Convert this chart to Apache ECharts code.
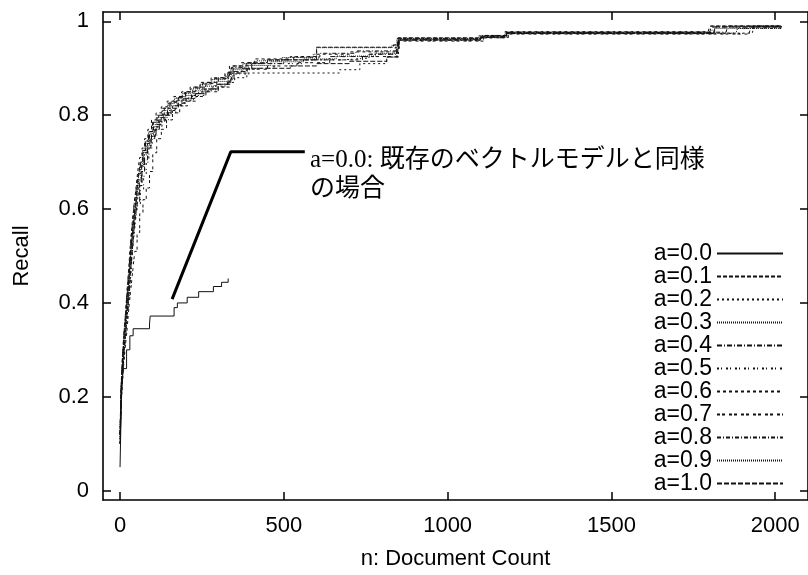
<!DOCTYPE html>
<html>
<head>
<meta charset="utf-8">
<script src="https://cdn.jsdelivr.net/npm/echarts@6/dist/echarts.min.js"></script>
<style>html,body{margin:0;padding:0;background:#fff;}#c{width:808px;height:575px;}</style>
</head>
<body>
<div id="c"></div>
<script>
// ---- data ----
const seriesNames = ['a=0.0','a=0.1','a=0.2','a=0.3','a=0.4','a=0.5','a=0.6','a=0.7','a=0.8','a=0.9','a=1.0'];
const xTicks = [0, 500, 1000, 1500, 2000];
const yTicks = [0, 0.2, 0.4, 0.6, 0.8, 1];

const a00 = [[0,0.05],[2,0.12],[5,0.22],[10,0.26],[20,0.30],[30,0.33],[40,0.345],[90,0.355],[92,0.372],[165,0.39],[175,0.40],[205,0.412],[240,0.424],[285,0.435],[310,0.444],[330,0.452]];
const a01 = [[0,0.12],[3,0.21],[8,0.28],[13,0.33],[18,0.37],[24,0.42],[29,0.47],[34,0.52],[39,0.56],[45,0.60],[50,0.63],[56,0.67],[62,0.70],[70,0.725],[78,0.745],[90,0.765],[102,0.785],[118,0.80],[135,0.815],[155,0.828],[178,0.84],[200,0.85],[230,0.86],[262,0.87],[300,0.88],[330,0.892],[345,0.905],[390,0.912],[450,0.918],[600,0.945],[835,0.95],[848,0.965],[1105,0.97],[1180,0.977],[1800,0.977],[1805,0.99],[2018,0.99]];
const a02 = [[0,0.10],[4,0.19],[9,0.25],[14,0.31],[20,0.35],[25,0.40],[31,0.45],[36,0.50],[41,0.54],[46,0.58],[52,0.61],[58,0.65],[66,0.68],[75,0.71],[85,0.735],[95,0.755],[108,0.775],[122,0.79],[140,0.805],[160,0.82],[185,0.83],[210,0.84],[240,0.85],[275,0.86],[320,0.87],[350,0.88],[387,0.89],[670,0.897],[732,0.91],[814,0.924],[850,0.96],[1100,0.966],[1185,0.975],[1930,0.976],[1935,0.99],[2018,0.99]];
const a03 = [[0,0.11],[3,0.20],[7,0.27],[12,0.32],[18,0.36],[23,0.41],[28,0.46],[33,0.51],[38,0.55],[44,0.59],[49,0.62],[55,0.66],[61,0.69],[68,0.72],[76,0.74],[86,0.76],[98,0.78],[112,0.795],[128,0.81],[146,0.825],[166,0.836],[190,0.846],[215,0.856],[245,0.866],[280,0.876],[322,0.886],[338,0.90],[375,0.91],[415,0.916],[495,0.923],[590,0.93],[600,0.944],[830,0.949],[845,0.963],[1100,0.968],[1175,0.975],[1880,0.978],[1885,0.985],[2018,0.99]];
const a04 = [[0,0.12],[3,0.22],[8,0.27],[12,0.33],[17,0.37],[23,0.42],[29,0.47],[34,0.52],[40,0.56],[46,0.60],[52,0.63],[59,0.665],[66,0.695],[74,0.72],[84,0.74],[96,0.76],[110,0.78],[126,0.795],[145,0.81],[168,0.822],[192,0.835],[218,0.846],[250,0.856],[290,0.866],[330,0.876],[336,0.89],[372,0.90],[402,0.91],[500,0.918],[640,0.925],[760,0.93],[845,0.942],[852,0.962],[1110,0.968],[1180,0.976],[1805,0.978],[1810,0.988],[2018,0.99]];
const a05 = [[0,0.10],[4,0.20],[9,0.26],[14,0.31],[20,0.355],[26,0.40],[32,0.45],[37,0.50],[42,0.54],[48,0.58],[54,0.61],[62,0.64],[72,0.67],[80,0.70],[88,0.73],[98,0.755],[112,0.775],[128,0.79],[148,0.805],[170,0.82],[196,0.832],[224,0.842],[256,0.852],[292,0.862],[328,0.872],[340,0.888],[395,0.90],[470,0.91],[560,0.918],[680,0.922],[760,0.93],[845,0.945],[850,0.96],[1100,0.965],[1180,0.974],[1900,0.976],[1905,0.985],[2018,0.988]];
const a06 = [[0,0.12],[3,0.21],[7,0.28],[12,0.33],[17,0.38],[22,0.43],[27,0.48],[32,0.53],[37,0.57],[43,0.61],[48,0.64],[54,0.68],[60,0.71],[67,0.73],[75,0.75],[85,0.77],[96,0.79],[110,0.805],[126,0.818],[144,0.83],[164,0.84],[188,0.85],[214,0.86],[244,0.87],[278,0.88],[320,0.89],[334,0.905],[370,0.912],[410,0.92],[520,0.925],[600,0.93],[700,0.935],[840,0.945],[848,0.963],[1095,0.969],[1175,0.978],[1795,0.978],[1800,0.99],[2018,0.99]];
const a07 = [[0,0.10],[4,0.19],[9,0.25],[15,0.30],[21,0.34],[27,0.39],[33,0.43],[39,0.47],[45,0.51],[52,0.55],[60,0.59],[70,0.62],[80,0.645],[90,0.68],[100,0.72],[112,0.75],[126,0.77],[142,0.79],[160,0.805],[182,0.82],[206,0.83],[232,0.84],[262,0.85],[300,0.86],[335,0.875],[342,0.89],[388,0.898],[450,0.905],[540,0.912],[640,0.918],[740,0.925],[845,0.94],[852,0.958],[1110,0.965],[1185,0.973],[1920,0.975],[1925,0.988],[2018,0.99]];
const a08 = [[0,0.12],[3,0.22],[7,0.28],[12,0.34],[17,0.38],[22,0.43],[28,0.48],[33,0.53],[38,0.57],[43,0.61],[49,0.64],[55,0.675],[62,0.70],[69,0.725],[77,0.745],[87,0.765],[99,0.785],[113,0.80],[130,0.815],[150,0.828],[172,0.838],[196,0.848],[222,0.858],[252,0.868],[288,0.878],[326,0.888],[340,0.902],[385,0.91],[440,0.918],[530,0.924],[610,0.932],[720,0.937],[842,0.946],[850,0.964],[1105,0.97],[1180,0.977],[1850,0.978],[1855,0.99],[2018,0.99]];
const a09 = [[0,0.11],[3,0.21],[8,0.27],[13,0.33],[18,0.37],[24,0.42],[30,0.47],[35,0.52],[40,0.555],[46,0.595],[51,0.625],[57,0.66],[64,0.69],[72,0.715],[80,0.735],[90,0.755],[102,0.775],[116,0.79],[133,0.805],[152,0.82],[174,0.832],[200,0.842],[228,0.852],[258,0.862],[295,0.872],[330,0.882],[345,0.897],[392,0.906],[460,0.914],[560,0.92],[660,0.926],[780,0.932],[845,0.944],[851,0.961],[1100,0.967],[1180,0.975],[1810,0.977],[1815,0.985],[1920,0.985],[1925,0.99],[2018,0.99]];
const a10 = [[0,0.10],[4,0.20],[8,0.26],[14,0.31],[19,0.36],[25,0.40],[30,0.45],[36,0.50],[41,0.545],[47,0.585],[53,0.615],[60,0.65],[67,0.68],[75,0.705],[84,0.73],[94,0.75],[106,0.77],[120,0.787],[137,0.80],[156,0.815],[178,0.826],[202,0.836],[230,0.846],[262,0.856],[300,0.866],[338,0.878],[348,0.893],[387,0.90],[520,0.905],[600,0.91],[700,0.915],[814,0.924],[848,0.96],[1100,0.966],[1180,0.974],[1800,0.976],[1815,0.988],[2018,0.99]];
const allData = [a00,a01,a02,a03,a04,a05,a06,a07,a08,a09,a10];

// annotation pointer (data units)
const pointerLine = [[159,0.408],[338,0.722],[564,0.722]];
const noteText = 'a=0.0: 既存のベクトルモデルと同様\nの場合';

// ---- styles ----
const dashes = ['solid',[4,2],[2,3],[1,1],[5,2,1,2],[2,2,1,4],[3,3],[3,2,3,4],[4,2,1,2],[1,1],[5,2]];
const FONT = '"Liberation Sans", Arial, Helvetica, sans-serif';

const chart = echarts.init(document.getElementById('c'), null, {renderer:'canvas'});

const series = seriesNames.map((n,i)=>({
  name:n, type:'line', step:'end', symbol:'none', showSymbol:false,
  data: allData[i], silent:true, animation:false,
  lineStyle:{color:'#111', width:1, type: dashes[i]},
  itemStyle:{color:'#111'}, z: i===0 ? 5 : 3
}));
series.push({
  name:'pointer', type:'line', data: pointerLine, symbol:'none', animation:false,
  lineStyle:{color:'#000', width:3}, silent:true, z:6
});

const axisCommon = {
  axisLine:{show:true, onZero:false, lineStyle:{color:'#000', width:1.6}},
  splitLine:{show:false},
};
const fmt = v => String(v);

chart.setOption({
  backgroundColor:'#fff',
  animation:false,
  grid:{left:103, right:-1, top:12, bottom:74, containLabel:false},
  xAxis:[
    Object.assign({type:'value', min:-52, max:2100, position:'bottom',
      name:'n: Document Count', nameLocation:'middle', nameGap:48,
      nameTextStyle:{fontFamily:FONT, fontSize:22, color:'#000'},
      axisTick:{show:true, inside:true, length:8, customValues:xTicks, lineStyle:{color:'#000', width:1.5}},
      axisLabel:{show:true, customValues:xTicks, formatter:fmt, margin:15, fontFamily:FONT, fontSize:22, color:'#000'}
    }, axisCommon),
    Object.assign({type:'value', min:-52, max:2100, position:'top',
      axisTick:{show:true, inside:true, length:8, customValues:xTicks, lineStyle:{color:'#000', width:1.5}},
      axisLabel:{show:false}
    }, axisCommon)
  ],
  yAxis:[
    Object.assign({type:'value', min:-0.02, max:1.02, position:'left',
      name:'Recall', nameLocation:'middle', nameGap:70, nameRotate:90,
      nameTextStyle:{fontFamily:FONT, fontSize:22, color:'#000'},
      axisTick:{show:true, inside:true, length:8, customValues:yTicks, lineStyle:{color:'#000', width:1.5}},
      axisLabel:{show:true, customValues:yTicks, formatter:fmt, margin:14, fontFamily:FONT, fontSize:22, color:'#000'}
    }, axisCommon),
    Object.assign({type:'value', min:-0.02, max:1.02, position:'right',
      axisTick:{show:true, inside:true, length:8, customValues:yTicks, lineStyle:{color:'#000', width:1.5}},
      axisLabel:{show:false}
    }, axisCommon)
  ],
  legend:{
    data: seriesNames, orient:'vertical', right:24, top:242, align:'right',
    itemWidth:66, itemHeight:14, itemGap:0, padding:0,
    itemStyle:{opacity:0},
    textStyle:{fontFamily:FONT, fontSize:23, color:'#000'},
    selectedMode:false
  },
  series: series,
  graphic:[{
    type:'text', left:310, top:146, silent:true,
    style:{text:noteText, fontFamily:'"Liberation Serif", "Noto Sans CJK JP", serif', fontSize:25, lineHeight:29, fill:'#000'}
  }]
});
</script>
</body>
</html>
